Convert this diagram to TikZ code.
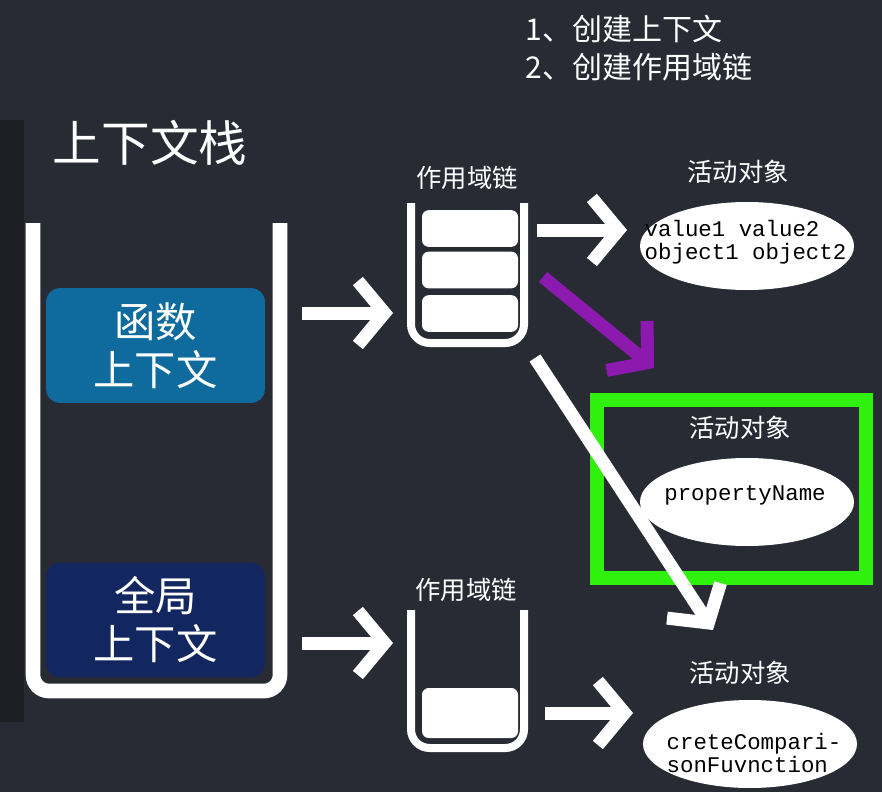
\documentclass[tikz,border=0pt]{standalone}
\usepackage{fontspec}
\newfontfamily\cjk{Noto Sans CJK SC}
\newfontfamily\mono{Liberation Mono}
\usepackage{tikz}
\usetikzlibrary{arrows.meta, shapes.geometric, positioning}
\definecolor{sfondo}{HTML}{292B34}
\definecolor{striscia}{HTML}{1E1F24}
\definecolor{blufunz}{HTML}{0F6B9E}
\definecolor{bluglob}{HTML}{12265F}
\definecolor{viola}{HTML}{8C1AAE}
\definecolor{verde}{HTML}{30F00E}

\begin{document}
\begin{tikzpicture}[x = 0.75pt, y = -0.75pt,
        parete/.style = {white, line width = 11pt, rounded corners = 12pt},
        bordo/.style = {white, line width = 6pt, rounded corners = 14pt},
        contesto/.style = {rounded corners = 10pt, minimum width = 164pt, minimum height = 86pt, text = white, align = center, font = \cjk\fontsize{31}{36}\selectfont},
        cella/.style = {fill = white, rounded corners = 5pt, minimum width = 72pt, minimum height = 27.5pt},
        etichetta/.style = {text = white, font = \cjk\fontsize{19}{22}\selectfont},
        codice/.style = {text = black, align = left, inner sep = 0pt, font = \mono\fontsize{16.8}{17.25}\selectfont},
        freccia/.style = {white, line width = 9.75pt, arrows = {-Straight Barb[length = 20pt, width = 48pt]}}]
        % Parametri
        \pgfmathsetmacro{\rx}{107}
        \pgfmathsetmacro{\ry}{44}
        % Sfondo
        \fill[sfondo] (0,0) rectangle (882,792);
        \fill[striscia] (0,120) rectangle (24,722);
        \useasboundingbox (0,0) rectangle (882,792);
        % Titoli
        \node[text = white, anchor = west, align = left, font = \cjk\fontsize{22.5}{28}\selectfont] (passi) at (521,48) {1、创建上下文\\2、创建作用域链};
        \node[text = white, font = \cjk\fontsize{36.5}{40}\selectfont] (titolo) at (150,143) {上下文栈};
        % Pila dei contesti
        \draw[parete] (33,223) -- (33,691) -- (280,691) -- (280,223);
        \node[contesto, fill = blufunz] (ctxfunz) at (155.5,345.5) {函数\\上下文};
        \node[contesto, fill = bluglob] (ctxglob) at (155.5,620) {全局\\上下文};
        % Catene di ambito
        \node[etichetta] (catena1) at (467,178) {作用域链};
        \draw[bordo] (411,203) -- (411,343) -- (524,343) -- (524,203);
        \foreach \y [count = \i] in {228.5, 270, 313.5}
            \node[cella] (cella\i) at (470,\y) {};
        \node[etichetta] (catena2) at (466,590) {作用域链};
        \draw[bordo] (411,610) -- (411,748) -- (524,748) -- (524,610);
        \node[cella, minimum height = 37.5pt] (cella4) at (470,713) {};
        % Oggetti attivi
        \node[etichetta] (att1) at (738,172) {活动对象};
        \coordinate (Ogg1) at (747,246);
        \fill[white] (Ogg1) ellipse [x radius = \rx, y radius = \ry];
        \node[codice] (testo1) at (745.5,242) {value1 value2\\object1 object2};
        \node[etichetta] (att2) at (740,428) {活动对象};
        \coordinate (Ogg2) at (747,502);
        \fill[white] (Ogg2) ellipse [x radius = \rx, y radius = \ry];
        \node[codice] (testo2) at (745,495) {propertyName};
        \node[etichetta] (att3) at (740,673) {活动对象};
        \coordinate (Ogg3) at (750,744);
        \fill[white] (Ogg3) ellipse [x radius = \rx, y radius = \ry];
        \node[codice] (testo3) at (754,753) {creteCompari-\\sonFuvnction};
        % Riquadro evidenziato
        \draw[verde, line width = 10pt] (597,400) rectangle (866,578);
        % Frecce
        \coordinate (A1s) at (302,313); \coordinate (A1e) at (393,313);
        \coordinate (A2s) at (302,643); \coordinate (A2e) at (393,643);
        \coordinate (A3s) at (537,230); \coordinate (A3e) at (627,230);
        \coordinate (A4s) at (543,277); \coordinate (A4e) at (654,368);
        \coordinate (A5s) at (535,358); \coordinate (A5e) at (713,630);
        \coordinate (A6s) at (545,713); \coordinate (A6e) at (633,713);
        \draw[freccia] (A1s) -- (A1e);
        \draw[freccia] (A2s) -- (A2e);
        \draw[freccia] (A3s) -- (A3e);
        \draw[freccia] (A6s) -- (A6e);
        \draw[freccia, viola] (A4s) -- (A4e);
        \draw[freccia] (A5s) -- (A5e);
    \end{tikzpicture}
\end{document}
